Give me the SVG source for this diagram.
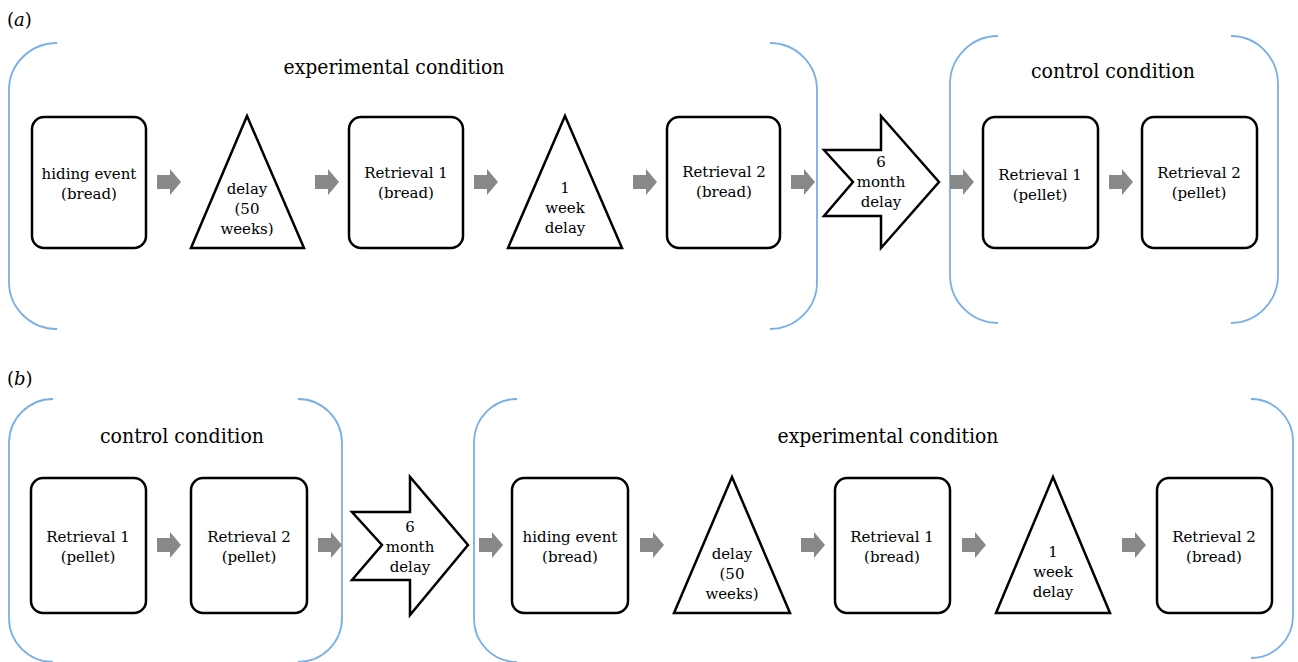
<svg xmlns="http://www.w3.org/2000/svg" width="1298" height="662" viewBox="0 0 1298 662">
<style>
  text { fill: #000; text-anchor: middle; font-family: "DejaVu Serif", "Liberation Serif", serif; }
  .lbl { font-size: 15px; }
  .ttl { font-size: 20px; }
  .pan { font-size: 18px; text-anchor: start; }
  .box { fill: #fff; stroke: #000; stroke-width: 2.5; }
  .brk { fill: none; stroke: #7aaee6; stroke-width: 1.8; }
  .ga { fill: #888; }
</style>
<defs>
  <path id="garrow" d="M0,-7 H13 V-13 L24,0 L13,13 V7 H0 Z"/>
</defs>
<rect width="1298" height="662" fill="#fff"/>

<!-- Panel a -->
<text class="pan" x="7" y="26">(<tspan font-style="italic">a</tspan>)</text>

<g id="a-exp-group">
  <path class="brk" d="M57,43 A48,47 0 0 0 9,90 V282 A48,47 0 0 0 57,329"/>
  <path class="brk" d="M770,43 A47,47 0 0 1 817,90 V282 A47,47 0 0 1 770,329"/>
  <text class="ttl" x="394" y="74" textLength="221" lengthAdjust="spacingAndGlyphs">experimental condition</text>
</g>
<g id="a-ctrl-group">
  <path class="brk" d="M998,36 A48,48 0 0 0 950,84 V275 A48,48 0 0 0 998,323"/>
  <path class="brk" d="M1231,36 A47,48 0 0 1 1278,84 V275 A47,48 0 0 1 1231,323"/>
  <text class="ttl" x="1113" y="78" textLength="164" lengthAdjust="spacingAndGlyphs">control condition</text>
</g>

<g id="a-hiding">
  <rect class="box" x="32" y="117" width="114" height="131" rx="12"/>
  <text class="lbl" x="89" y="179">hiding event</text>
  <text class="lbl" x="89" y="199">(bread)</text>
</g>
<g id="a-delay50">
  <polygon class="box" points="247,116 304,248 191,248"/>
  <text class="lbl" x="247" y="194">delay</text>
  <text class="lbl" x="247" y="214">(50</text>
  <text class="lbl" x="247" y="234">weeks)</text>
</g>
<g id="a-ret1-bread">
  <rect class="box" x="349" y="117" width="114" height="131" rx="12"/>
  <text class="lbl" x="406" y="178">Retrieval 1</text>
  <text class="lbl" x="406" y="198">(bread)</text>
</g>
<g id="a-week">
  <polygon class="box" points="565,116 622,248 508,248"/>
  <text class="lbl" x="565" y="193">1</text>
  <text class="lbl" x="565" y="213">week</text>
  <text class="lbl" x="565" y="233">delay</text>
</g>
<g id="a-ret2-bread">
  <rect class="box" x="667" y="117" width="113" height="131" rx="12"/>
  <text class="lbl" x="724" y="177">Retrieval 2</text>
  <text class="lbl" x="724" y="197">(bread)</text>
</g>
<g id="a-6month">
  <polygon class="box" points="824,150 881,150 881,116 939,182 881,248 881,216 824,216 853,182"/>
  <text class="lbl" x="881" y="167">6</text>
  <text class="lbl" x="881" y="187">month</text>
  <text class="lbl" x="881" y="207">delay</text>
</g>
<g id="a-ret1-pellet">
  <rect class="box" x="983" y="117" width="115" height="131" rx="12"/>
  <text class="lbl" x="1040" y="180">Retrieval 1</text>
  <text class="lbl" x="1040" y="200">(pellet)</text>
</g>
<g id="a-ret2-pellet">
  <rect class="box" x="1142" y="117" width="115" height="131" rx="12"/>
  <text class="lbl" x="1199" y="178">Retrieval 2</text>
  <text class="lbl" x="1199" y="198">(pellet)</text>
</g>

<!-- Panel b -->
<text class="pan" x="7" y="385">(<tspan font-style="italic">b</tspan>)</text>

<g id="b-ctrl-group">
  <path class="brk" d="M53,399 A44,44 0 0 0 9,443 V618 A44,44 0 0 0 53,662"/>
  <path class="brk" d="M298,399 A44,44 0 0 1 342,443 V618 A44,44 0 0 1 298,662"/>
  <text class="ttl" x="182" y="443" textLength="164" lengthAdjust="spacingAndGlyphs">control condition</text>
</g>
<g id="b-exp-group">
  <path class="brk" d="M517,399 A43,43 0 0 0 474,442 V619 A43,43 0 0 0 517,662"/>
  <path class="brk" d="M1251,399 A42,42 0 0 1 1293,441 V616 A42,42 0 0 1 1251,658"/>
  <text class="ttl" x="888" y="443" textLength="221" lengthAdjust="spacingAndGlyphs">experimental condition</text>
</g>

<g id="b-ret1-pellet">
  <rect class="box" x="31" y="478" width="115" height="135" rx="12"/>
  <text class="lbl" x="88" y="542">Retrieval 1</text>
  <text class="lbl" x="88" y="562">(pellet)</text>
</g>
<g id="b-ret2-pellet">
  <rect class="box" x="191" y="478" width="116" height="135" rx="12"/>
  <text class="lbl" x="249" y="542">Retrieval 2</text>
  <text class="lbl" x="249" y="562">(pellet)</text>
</g>
<g id="b-6month">
  <polygon class="box" points="352,512 410,512 410,477 468,545 410,615 410,580 352,580 382,545"/>
  <text class="lbl" x="410" y="532">6</text>
  <text class="lbl" x="410" y="552">month</text>
  <text class="lbl" x="410" y="572">delay</text>
</g>
<g id="b-hiding">
  <rect class="box" x="512" y="478" width="116" height="135" rx="12"/>
  <text class="lbl" x="570" y="542">hiding event</text>
  <text class="lbl" x="570" y="562">(bread)</text>
</g>
<g id="b-delay50">
  <polygon class="box" points="732,477 790,613 674,613"/>
  <text class="lbl" x="732" y="559">delay</text>
  <text class="lbl" x="732" y="579">(50</text>
  <text class="lbl" x="732" y="599">weeks)</text>
</g>
<g id="b-ret1-bread">
  <rect class="box" x="835" y="478" width="115" height="135" rx="12"/>
  <text class="lbl" x="892" y="542">Retrieval 1</text>
  <text class="lbl" x="892" y="562">(bread)</text>
</g>
<g id="b-week">
  <polygon class="box" points="1053,477 1110,613 996,613"/>
  <text class="lbl" x="1053" y="557">1</text>
  <text class="lbl" x="1053" y="577">week</text>
  <text class="lbl" x="1053" y="597">delay</text>
</g>
<g id="b-ret2-bread">
  <rect class="box" x="1157" y="478" width="115" height="135" rx="12"/>
  <text class="lbl" x="1214" y="542">Retrieval 2</text>
  <text class="lbl" x="1214" y="562">(bread)</text>
</g>

<g id="connectors" class="ga">
  <use href="#garrow" x="157" y="182"/>
  <use href="#garrow" x="315" y="182"/>
  <use href="#garrow" x="474" y="182"/>
  <use href="#garrow" x="633" y="182"/>
  <use href="#garrow" x="791" y="182"/>
  <use href="#garrow" x="950" y="182"/>
  <use href="#garrow" x="1109" y="182"/>
  <use href="#garrow" x="157" y="545"/>
  <use href="#garrow" x="318" y="545"/>
  <use href="#garrow" x="479" y="545"/>
  <use href="#garrow" x="640" y="545"/>
  <use href="#garrow" x="801" y="545"/>
  <use href="#garrow" x="962" y="545"/>
  <use href="#garrow" x="1122" y="545"/>
</g>
</svg>
